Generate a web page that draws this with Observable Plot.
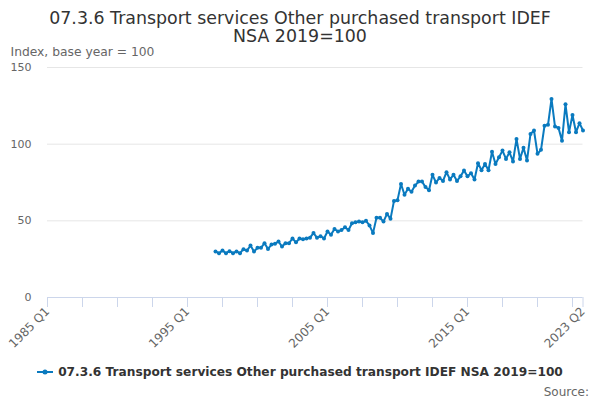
<!DOCTYPE html>
<html>
<head>
<meta charset="utf-8">
<script src="https://cdn.jsdelivr.net/npm/d3@7"></script>
<script src="https://cdn.jsdelivr.net/npm/@observablehq/plot@0.6"></script>
<style>
  html, body { margin: 0; padding: 0; background: #fff; }
  #wrap { position: relative; width: 600px; height: 400px; font-family: "DejaVu Sans", sans-serif; overflow: hidden; }
  #title { position: absolute; left: 0; top: 9px; width: 600px; text-align: center; font-size: 17.4px; line-height: 18.4px; color: #333; }
  #subtitle { position: absolute; left: 10.5px; top: 44.5px; font-size: 12.3px; color: #666; }
  #legend { position: absolute; left: 0; top: 365px; width: 600px; text-align: center; font-size: 12.2px; font-weight: bold; color: #333; white-space: nowrap; }
  #legend svg { vertical-align: middle; margin-right: 5px; position: relative; top: -1px; }
  #source { position: absolute; right: 11px; top: 385px; font-size: 12px; color: #666; }
  #chart { position: absolute; left: 0; top: 0; }
</style>
</head>
<body>
<div id="wrap">
  <div id="chart"></div>
  <div id="title">07.3.6 Transport services Other purchased transport IDEF<br>NSA 2019=100</div>
  <div id="subtitle">Index, base year = 100</div>
  <div id="legend"><svg width="16" height="10"><line x1="0" y1="5" x2="16" y2="5" stroke="#0a7abf" stroke-width="2"/><circle cx="8" cy="5" r="2.5" fill="#0a7abf"/></svg>07.3.6 Transport services Other purchased transport IDEF NSA 2019=100</div>
  <div id="source">Source:</div>
</div>
<script>
// Series: quarterly index, 1997 Q1 .. 2023 Q2
const seriesName = "07.3.6 Transport services Other purchased transport IDEF NSA 2019=100";
const axisStartLabel = "1985 Q1";       // x-axis begins here (quarter index 0)
const firstQuarterIndex = 48;            // 1997 Q1 is 48 quarters after 1985 Q1
const values = [
  30, 28.9, 30.6, 28.9, 30.2, 28.9, 30, 28.9, 31.5, 30.6, 33.9, 30, 32.4, 32.4, 35.4, 31.7, 34.5, 35, 36.5, 33.2, 35.4, 35.4,
  38.5, 36, 38.5, 38, 38.5, 39, 42, 39, 40, 38.5, 43, 41, 44.7, 43, 44, 45.8, 44, 48.4, 49, 49.5, 49, 50, 47, 42, 52, 52, 49.5, 54.5, 51.3,
  63, 63.5, 74, 67, 71, 69, 73, 75.6, 75.6, 72, 70, 80, 75, 78, 76, 81.7, 77, 80, 76, 79, 82.8, 79, 81, 77, 87.6, 83, 87, 83,
  95, 87, 91.5, 95.8, 90.4, 94.7, 88.7, 103.4, 90.4, 97.6, 89.3, 106.7, 108.9, 93.7, 96.3, 112, 112.6, 129.5, 111.5, 110.6, 102.3, 126, 107.8, 119, 107.8, 113.7, 108.9
];
const lastQuarterIndex = 153;            // 2023 Q2
const tickIndices = [0, 10, 20, 30, 40, 50, 60, 70, 80, 90, 100, 110, 120, 130, 140, 150, 153];
const labelIndices = [0, 40, 80, 120, 153];
const tickLabels = ["1985 Q1", "1995 Q1", "2005 Q1", "2015 Q1", "2023 Q2"];
const yTicks = [0, 50, 100, 150];
const lineColor = "#0a7abf";

const data = values.map((v, k) => ({q: firstQuarterIndex + k, v}));
const labelFor = d => { const j = labelIndices.indexOf(d); return j >= 0 ? tickLabels[j] : ""; };

const chart = Plot.plot({
  width: 600,
  height: 400,
  marginLeft: 47,
  marginRight: 17.5,
  marginTop: 67,
  marginBottom: 103,
  style: {fontFamily: "DejaVu Sans, sans-serif", background: "transparent", overflow: "visible"},
  x: {domain: [0, lastQuarterIndex]},
  y: {domain: [0, 150]},
  marks: [
    Plot.gridY(yTicks.filter(t => t > 0), {stroke: "#e6e6e6", strokeOpacity: 1}),
    Plot.axisY(yTicks, {tickSize: 0, tickPadding: 16, label: null, fill: "#666", fontSize: 11}),
    Plot.ruleY([0], {stroke: "#ccd6eb", strokeWidth: 1}),
    Plot.axisX(tickIndices, {tickSize: 10, tickPadding: 2, stroke: "#ccd6eb", strokeOpacity: 1, fill: "#666", fontSize: 12, tickRotate: -45, tickFormat: labelFor, label: null}),
    Plot.line(data, {x: "q", y: "v", stroke: lineColor, strokeWidth: 2}),
    Plot.dot(data, {x: "q", y: "v", fill: lineColor, r: 2})
  ]
});
document.getElementById("chart").appendChild(chart);
</script>
</body>
</html>
